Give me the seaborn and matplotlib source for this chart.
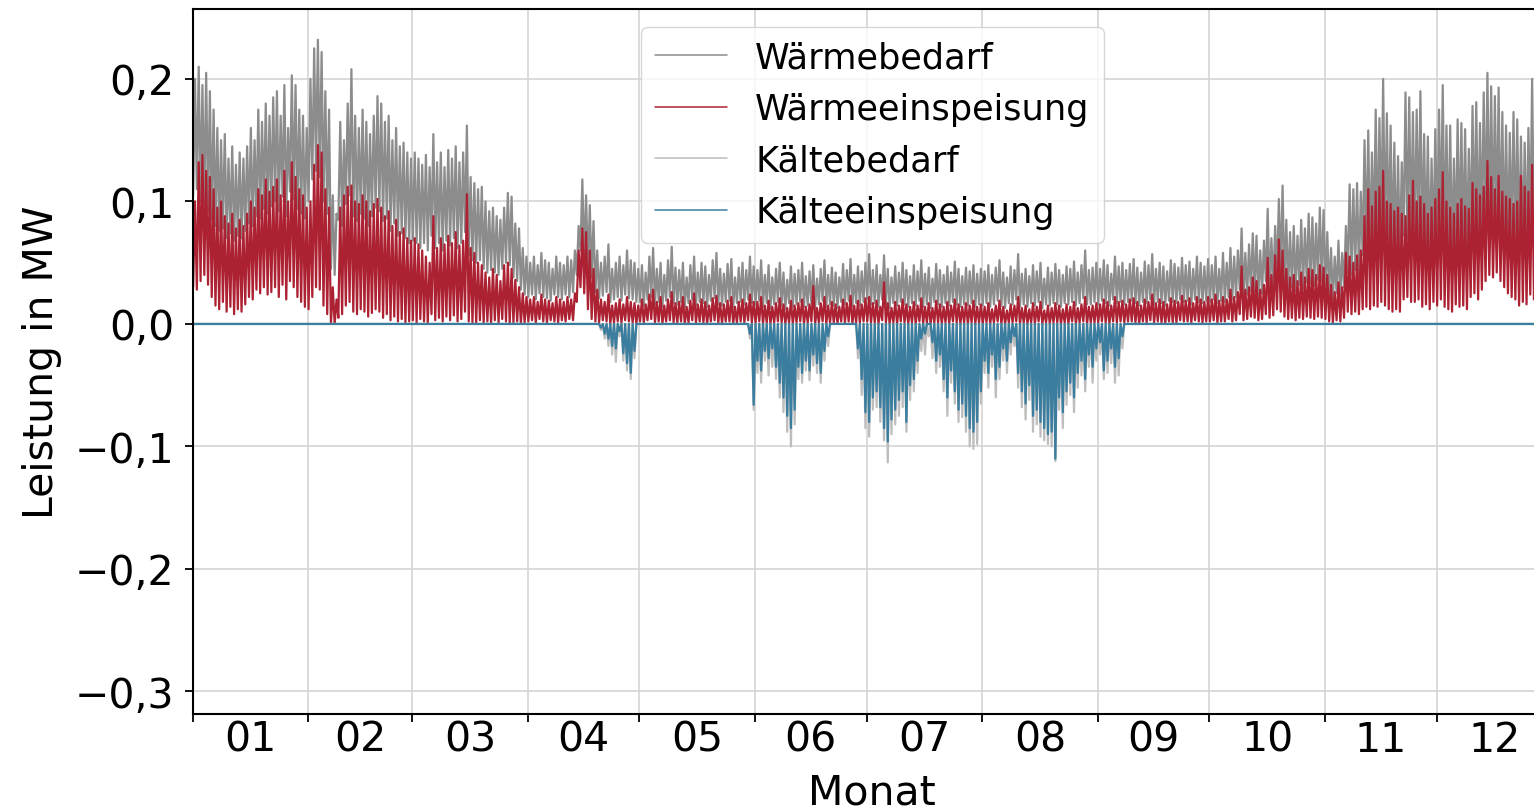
import numpy as np
import pandas as pd
import matplotlib
matplotlib.use("Agg")
import matplotlib.pyplot as plt
import seaborn as sns
from matplotlib.ticker import FixedLocator, FixedFormatter, FuncFormatter

# ---------------------------------------------------------------
# Daily extremes of the load profiles in kW (one value per day,
# Jan 1 .. Dec 31). "hoch" = daily maximum, "tief" = daily minimum.
# ---------------------------------------------------------------
waermebedarf_hoch = [
    200, 210, 195, 205, 190, 175, 160, 150, 155, 135, 145, 130, 140, 135, 145, 160, 150, 175, 165, 180, 170, 185, 190, 170, 195, 160, 203, 195, 175, 170, 160,  # Jan
    200, 225, 232, 222, 190, 175, 105, 90, 165, 150, 180, 208, 170, 160, 175, 165, 155, 170, 186, 180, 165, 170, 150, 160, 145, 148, 140, 135,  # Feb
    140, 135, 130, 138, 128, 155, 132, 140, 128, 142, 135, 145, 132, 140, 162, 120, 115, 110, 112, 100, 92, 95, 88, 85, 95, 107, 104, 82, 78, 62, 55,  # Mar
    50, 55, 48, 58, 52, 50, 45, 55, 50, 48, 55, 52, 60, 80, 118, 105, 97, 84, 60, 50, 55, 65, 45, 50, 55, 48, 60, 52, 50, 45,  # Apr
    48, 42, 55, 62, 45, 50, 40, 52, 63, 46, 44, 50, 38, 48, 55, 42, 50, 47, 40, 52, 58, 45, 41, 49, 53, 38, 46, 50, 44, 55, 47,  # May
    44, 52, 40, 48, 38, 45, 50, 42, 36, 47, 41, 44, 50, 39, 43, 48, 37, 45, 52, 40, 46, 42, 38, 49, 44, 53, 40, 47, 43, 50,  # Jun
    57, 44, 48, 40, 56, 45, 38, 47, 42, 50, 44, 39, 48, 43, 52, 41, 46, 37, 49, 44, 40, 47, 42, 51, 45, 39, 46, 43, 48, 41, 45,  # Jul
    43, 48, 40, 46, 52, 42, 38, 47, 44, 57, 41, 45, 39, 48, 43, 50, 37, 46, 42, 49, 44, 40, 47, 45, 51, 42, 48, 60, 44, 46, 50,  # Aug
    45, 52, 48, 41, 55, 47, 50, 44, 49, 53, 46, 42, 51, 48, 57, 45, 50, 47, 43, 52, 49, 46, 54, 48, 51, 45, 55, 50, 47, 53,  # Sep
    48, 55, 45, 58, 50, 62, 55, 60, 78, 58, 65, 74, 72, 60, 68, 94, 70, 80, 102, 113, 85, 75, 80, 72, 85, 78, 90, 87, 82, 95, 93,  # Oct
    75, 62, 55, 68, 58, 80, 114, 110, 115, 108, 150, 158, 140, 175, 168, 200, 172, 162, 148, 137, 132, 189, 185, 173, 175, 190, 155, 153, 135, 159,  # Nov
    175, 195, 162, 162, 135, 167, 164, 159, 143, 178, 181, 164, 189, 205, 194, 186, 193, 173, 162, 156, 173, 167, 153, 148, 160, 200, 175, 160, 170, 150, 165,  # Dec
]
waermebedarf_tief = [
    105, 110, 100, 98, 92, 85, 80, 76, 78, 70, 74, 68, 72, 70, 76, 82, 80, 88, 86, 94, 90, 96, 100, 92, 104, 88, 108, 102, 94, 90, 86,
    100, 118, 125, 120, 100, 90, 45, 40, 85, 80, 98, 105, 88, 84, 90, 86, 80, 88, 95, 92, 84, 86, 76, 82, 72, 74, 70, 66,
    68, 66, 62, 66, 60, 72, 62, 66, 60, 68, 64, 70, 62, 66, 75, 56, 52, 50, 52, 45, 42, 44, 42, 40, 45, 50, 48, 38, 35, 28, 24,
    22, 24, 20, 25, 22, 21, 19, 24, 22, 20, 24, 22, 26, 40, 60, 52, 46, 38, 26, 21, 23, 26, 18, 20, 22, 19, 24, 21, 20, 18,
    18, 15, 20, 22, 16, 18, 14, 19, 22, 17, 16, 18, 13, 17, 20, 15, 18, 17, 14, 19, 21, 16, 15, 18, 19, 13, 17, 18, 16, 20, 17,
    16, 19, 14, 17, 13, 16, 18, 15, 12, 17, 14, 16, 18, 14, 15, 17, 13, 16, 19, 14, 16, 15, 13, 18, 16, 19, 14, 17, 15, 18,
    20, 16, 17, 14, 20, 16, 13, 17, 15, 18, 16, 14, 17, 15, 19, 14, 16, 13, 18, 16, 14, 17, 15, 18, 16, 14, 16, 15, 17, 14, 16,
    15, 17, 14, 16, 19, 15, 13, 17, 16, 20, 14, 16, 14, 17, 15, 18, 13, 16, 15, 17, 16, 14, 17, 16, 18, 15, 17, 21, 16, 16, 18,
    16, 19, 17, 15, 20, 17, 18, 16, 18, 19, 17, 15, 18, 17, 20, 16, 18, 17, 15, 19, 18, 17, 20, 18, 19, 16, 20, 18, 17, 19,
    18, 20, 17, 19, 18, 22, 20, 22, 28, 21, 24, 27, 26, 22, 25, 35, 26, 30, 38, 42, 32, 28, 30, 27, 32, 29, 34, 33, 31, 36, 35,
    28, 24, 20, 25, 22, 30, 42, 40, 44, 40, 56, 60, 54, 66, 64, 76, 66, 62, 56, 52, 50, 72, 70, 66, 66, 72, 60, 58, 52, 60,
    66, 74, 62, 62, 52, 64, 62, 60, 55, 68, 70, 62, 72, 78, 74, 72, 74, 66, 62, 60, 66, 64, 58, 56, 62, 76, 66, 62, 65, 58, 63,
]
waermeeinspeisung_hoch = [
    100, 132, 138, 125, 120, 110, 95, 100, 88, 82, 90, 78, 85, 80, 90, 100, 95, 110, 105, 118, 108, 112, 118, 105, 125, 100, 132, 120, 110, 105, 95,
    100, 130, 146, 140, 110, 95, 30, 20, 95, 105, 112, 113, 100, 98, 105, 100, 92, 98, 102, 95, 88, 92, 80, 85, 75, 78, 70, 68,
    70, 65, 60, 55, 50, 88, 62, 70, 65, 72, 66, 75, 64, 68, 106, 62, 58, 50, 48, 42, 38, 45, 40, 35, 48, 50, 45, 36, 30, 25, 22,
    20, 22, 18, 24, 20, 19, 17, 22, 20, 18, 22, 20, 25, 60, 78, 75, 60, 45, 28, 20, 18, 24, 15, 17, 20, 16, 22, 18, 17, 15,
    20, 16, 24, 28, 18, 22, 15, 20, 26, 17, 18, 22, 14, 19, 25, 16, 20, 18, 15, 21, 23, 17, 16, 19, 22, 14, 18, 20, 17, 24, 18,
    18, 22, 15, 19, 14, 17, 21, 16, 13, 19, 15, 17, 20, 14, 16, 31, 13, 17, 22, 15, 18, 16, 14, 20, 17, 23, 15, 19, 16, 21,
    22, 17, 19, 14, 34, 17, 13, 18, 15, 20, 16, 14, 18, 15, 21, 14, 17, 13, 19, 16, 14, 18, 15, 20, 16, 14, 17, 15, 19, 14, 16,
    14, 17, 12, 15, 19, 14, 11, 16, 15, 22, 13, 15, 12, 17, 14, 18, 11, 15, 13, 17, 15, 12, 16, 14, 18, 13, 16, 22, 14, 15, 17,
    16, 20, 18, 15, 22, 18, 19, 16, 20, 21, 18, 15, 20, 18, 24, 17, 20, 18, 16, 21, 19, 18, 23, 19, 21, 17, 22, 20, 18, 22,
    20, 24, 19, 22, 20, 28, 22, 26, 47, 28, 30, 38, 35, 28, 32, 54, 40, 56, 69, 60, 45, 38, 40, 35, 42, 38, 45, 44, 40, 48, 46,
    40, 32, 26, 34, 30, 58, 55, 50, 56, 60, 88, 110, 96, 108, 112, 125, 100, 98, 92, 95, 90, 88, 105, 117, 100, 104, 98, 90, 95, 102,
    110, 124, 100, 95, 90, 98, 102, 96, 94, 115, 110, 105, 112, 133, 120, 110, 121, 108, 104, 102, 98, 100, 121, 112, 108, 130, 115, 105, 110, 100, 108,
]
waermeeinspeisung_tief = [
    30, 28, 35, 40, 32, 22, 15, 12, 18, 10, 14, 8, 12, 10, 16, 22, 20, 28, 25, 30, 24, 26, 30, 22, 32, 20, 35, 30, 22, 18, 14,
    12, 22, 30, 28, 15, 8, 0, 0, 5, 8, 15, 18, 10, 8, 12, 10, 6, 9, 12, 10, 5, 8, 3, 6, 2, 4, 1, 2,
    3, 1, 4, 2, 0, 8, 3, 5, 2, 6, 3, 7, 2, 4, 10, 2, 1, 0, 3, 1, 2, 0, 3, 1, 4, 2, 0, 1, 2, 0, 1,
    2, 3, 1, 4, 2, 1, 3, 2, 1, 3, 2, 4, 3, 18, 30, 25, 12, 4, 2, 1, 3, 2, 0, 1, 2, 1, 3, 2, 1, 0,
    2, 1, 3, 4, 1, 2, 0, 2, 3, 1, 1, 2, 0, 1, 3, 1, 2, 1, 0, 2, 3, 1, 0, 2, 2, 0, 1, 2, 1, 3, 1,
    1, 2, 0, 1, 0, 1, 2, 1, 0, 1, 0, 1, 2, 0, 1, 2, 0, 1, 2, 0, 1, 1, 0, 2, 1, 2, 0, 1, 1, 2,
    2, 1, 1, 0, 3, 1, 0, 1, 0, 2, 1, 0, 1, 0, 2, 0, 1, 0, 1, 1, 0, 1, 0, 2, 1, 0, 1, 0, 1, 0, 1,
    0, 1, 0, 1, 2, 0, 0, 1, 1, 2, 0, 1, 0, 1, 0, 2, 0, 1, 0, 1, 1, 0, 1, 0, 2, 0, 1, 2, 0, 1, 1,
    1, 2, 1, 0, 2, 1, 2, 1, 2, 2, 1, 0, 2, 1, 3, 1, 2, 1, 0, 2, 1, 1, 3, 2, 2, 1, 3, 2, 1, 2,
    2, 3, 1, 2, 2, 4, 2, 3, 8, 3, 4, 6, 5, 3, 4, 8, 5, 7, 12, 10, 6, 4, 5, 3, 5, 4, 6, 5, 4, 6, 5,
    4, 2, 1, 3, 2, 5, 10, 8, 10, 8, 12, 14, 12, 15, 14, 18, 15, 12, 10, 12, 10, 20, 22, 18, 18, 20, 14, 16, 12, 18,
    15, 20, 14, 12, 10, 16, 14, 15, 12, 22, 25, 20, 28, 35, 40, 38, 42, 35, 30, 25, 22, 20, 15, 18, 16, 24, 20, 18, 22, 16, 20,
]

# Cooling season: daily peak (negative, kW) from day 105 to day 250;
# outside this window the cooling load is zero.
kaelte_start_tag = 105
kaeltebedarf_spitze = [
    0, 0, 0, 0, -5, -12, -18, -25, -31, -10, -30, -38, -45, -28,
    0, 0, 0, 0, 0, 0, 0, 0, 0, 0, 0, 0, 0, 0, 0, 0, 0, 0, 0, 0, 0, 0, 0, 0, 0, 0, 0, 0, 0, 0,
    -12, -70, -40, -48, -30, -42, -35, -45, -60, -72, -88, -100, -82, -45, -48, -38, -46, -34, -40, -48, -30, -18,
    0, 0, 0, 0, 0, 0, 0,
    -28, -58, -85, -92, -70, -68, -80, -95, -113, -90, -82, -75, -68, -88, -62, -55, -40, -22, -25, -10,
    -28, -40, -35, -55, -75, -48, -65, -80, -76, -88, -100, -102, -98, -65, -40, -52, -35, -60, -45, -30,
    -40, -25, -18, -52, -68, -78, -62, -88, -82, -92, -95, -98, -100, -112, -70, -85, -66, -58, -72, -52,
    -42, -55, -35, -48, -30, -25, -45, -40, -32, -48, -42, -20,
    0,
]
kaelteeinspeisung_spitze = [
    0, 0, 0, 0, -3, -8, -12, -18, -20, -6, -24, -32, -40, -22,
    0, 0, 0, 0, 0, 0, 0, 0, 0, 0, 0, 0, 0, 0, 0, 0, 0, 0, 0, 0, 0, 0, 0, 0, 0, 0, 0, 0, 0, 0,
    -8, -66, -30, -38, -22, -28, -20, -35, -48, -60, -75, -85, -70, -35, -40, -30, -38, -25, -32, -40, -22, -10,
    0, 0, 0, 0, 0, 0, 0,
    -20, -45, -72, -80, -60, -55, -68, -85, -96, -78, -70, -62, -55, -80, -50, -45, -30, -12, -8, 0,
    -15, -30, -25, -45, -60, -38, -55, -70, -65, -75, -85, -88, -80, -55, -30, -40, -25, -45, -35, -20,
    -30, -15, -10, -40, -55, -65, -50, -75, -70, -80, -85, -90, -88, -110, -60, -72, -55, -48, -60, -40,
    -30, -45, -25, -35, -20, -15, -38, -30, -20, -35, -28, -10,
    0,
]

monate = ["01", "02", "03", "04", "05", "06", "07", "08", "09", "10", "11", "12"]
serien = ["Wärmebedarf", "Wärmeeinspeisung", "Kältebedarf", "Kälteeinspeisung"]
farben = ["#8c8c8c", "#ad2233", "#bdbdbd", "#3a7d9e"]

# ---------------------------------------------------------------
# Build the time axis (days of year) and the profile table
# ---------------------------------------------------------------
tage = np.arange(365)
std_tief, std_hoch = 4 / 24, 16 / 24   # hour of daily minimum / maximum


def profil(tief, hoch):
    t = np.column_stack([tage + std_tief, tage + std_hoch]).ravel()
    p = np.column_stack([np.asarray(tief, float), np.asarray(hoch, float)]).ravel() / 1000.0
    return t, p


def kaelte_tageswerte(spitze):
    werte = np.zeros(365)
    werte[kaelte_start_tag:kaelte_start_tag + len(spitze)] = spitze
    return werte


frames = []
for name, (tief, hoch) in zip(serien, [
    (waermebedarf_tief, waermebedarf_hoch),
    (waermeeinspeisung_tief, waermeeinspeisung_hoch),
    (np.zeros(365), kaelte_tageswerte(kaeltebedarf_spitze)),
    (np.zeros(365), kaelte_tageswerte(kaelteeinspeisung_spitze)),
]):
    t, p = profil(tief, hoch)
    frames.append(pd.DataFrame({"Tag": t, "Leistung": p, "Serie": name}))
df = pd.concat(frames, ignore_index=True)

monatsbeginn = np.asarray(pd.date_range("2021-01-01", periods=12, freq="MS").dayofyear - 1)
monatsende = np.append(monatsbeginn[1:], 365)
monatsmitte = (monatsbeginn + monatsende) / 2

# ---------------------------------------------------------------
# Plot
# ---------------------------------------------------------------
sns.set_theme(style="ticks")
plt.rcParams["font.family"] = ["DejaVu Sans"]
plt.rcParams["text.color"] = "black"

W, H = 1534, 812
fig = plt.figure(figsize=(W / 100, H / 100), dpi=100)
ax = fig.add_axes([192.5 / W, 97 / H, (1552 - 192.5) / W, 705 / H])

for name, farbe in zip(serien, farben):
    sub = df[df["Serie"] == name]
    sns.lineplot(data=sub, x="Tag", y="Leistung", color=farbe, linewidth=1.6,
                 estimator=None, sort=False, label=name, ax=ax)

ax.set_xlim(0, 365)
ax.set_ylim(-0.3184, 0.2571)

ax.xaxis.set_major_locator(FixedLocator(list(monatsbeginn) + [365]))
ax.xaxis.set_major_formatter(FuncFormatter(lambda v, p: ""))
ax.xaxis.set_minor_locator(FixedLocator(monatsmitte))
ax.xaxis.set_minor_formatter(FixedFormatter(monate))
ax.set_yticks([-0.3, -0.2, -0.1, 0.0, 0.1, 0.2])
ax.yaxis.set_major_formatter(FuncFormatter(
    lambda v, p: ("\u2212" if v < -1e-9 else "") + f"{abs(v):.1f}".replace(".", ",")))

ax.tick_params(axis="x", which="major", length=6, width=1.3, color="black", direction="out")
ax.tick_params(axis="x", which="minor", length=0, labelsize=29.5, pad=4, labelcolor="black")
ax.tick_params(axis="y", which="major", length=6, width=1.3, labelsize=29.5, pad=7,
               color="black", labelcolor="black")

ax.grid(True, which="major", color="#d4d4d4", linewidth=1.2)
ax.set_axisbelow(True)
for s in ["left", "bottom", "top"]:
    ax.spines[s].set_visible(True)
    ax.spines[s].set_color("black")
    ax.spines[s].set_linewidth(1.5)
ax.spines["right"].set_visible(False)

ax.set_xlabel("Monat", fontsize=29.5, color="black")
ax.set_ylabel("Leistung in MW", fontsize=29.5, color="black")
ax.xaxis.set_label_coords(0.5, -0.083)
ax.yaxis.set_label_coords(-0.096, 0.5)

leg = ax.legend(loc="upper center", fontsize=25.3, handlelength=2.05, handletextpad=0.8,
                borderpad=0.4, frameon=True, framealpha=0.8, edgecolor="#cccccc", fancybox=True)
for txt in leg.get_texts():
    txt.set_color("black")
for linie in leg.get_lines():
    linie.set_linewidth(1.1)

fig.savefig("out.png", dpi=100)
